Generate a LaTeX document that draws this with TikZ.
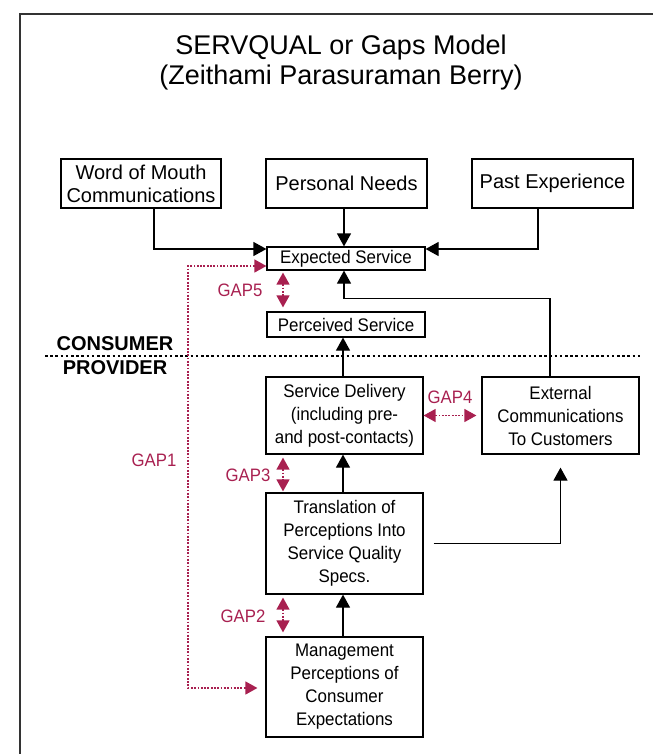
\documentclass[tikz,border=0pt]{standalone}
\usepackage{fontspec}
\setmainfont{Liberation Sans}
\newfontfamily\boxfont[FakeStretch=0.93]{Liberation Sans}
\usetikzlibrary{arrows.meta}
\definecolor{gapred}{RGB}{168,32,80}
\begin{document}
\begin{tikzpicture}[x=1pt,y=-1pt,
  box/.style={draw, line width=1.2pt, align=center, inner sep=0pt,
    font=\boxfont\fontsize{18.2}{23}\selectfont},
  bigbox/.style={box, font=\fontsize{20}{23}\selectfont},
  flow/.style={line width=1.2pt, -{Triangle[length=13pt,width=14pt]}},
  gapline/.style={gapred, line width=1.3pt, dash pattern=on 1.8pt off 1.5pt,
    {Triangle[length=12pt,width=13pt]}-{Triangle[length=12pt,width=13pt]}},
  gaplabel/.style={text=gapred, inner sep=0pt, font=\boxfont\fontsize{18}{20}\selectfont},
  side/.style={inner sep=0pt, font=\bfseries\fontsize{20}{22}\selectfont},
]
\useasboundingbox (0,0) rectangle (653,754);

% frame
\draw[line width=1.4pt, black!80] (20,754) -- (20,14) -- (653,14);

% title
\node[align=center, font=\fontsize{27}{30}\selectfont] (title) at (341,63)
  {SERVQUAL or Gaps Model\\(Zeithami Parasuraman Berry)};

% consumer side
\node[bigbox, minimum width=160pt, minimum height=49pt] (wom) at (141,183.5)
  {Word of Mouth\\Communications};
\node[bigbox, minimum width=161pt, minimum height=49pt] (needs) at (346.5,183.5)
  {Personal Needs};
\node[bigbox, minimum width=161pt, minimum height=49pt] (past) at (552.5,183.5)
  {Past Experience};
\node[box, minimum width=158pt, minimum height=23pt] (exp) at (346,258.5)
  {Expected Service};
\node[box, minimum width=158pt, minimum height=25pt] (perc) at (346,324.5)
  {Perceived Service};

% consumer / provider divider
\draw[line width=2.6pt, dash pattern=on 2.6pt off 2.6pt] (45,356) -- (643,356);
\node[side] (consumer) at (115,344) {CONSUMER};
\node[side] (provider) at (115,368) {PROVIDER};

% provider side
\node[box, minimum width=157pt, minimum height=77pt] (deliv) at (344.5,415.5)
  {Service Delivery\\(including pre-\\and post-contacts)};
\node[box, minimum width=157pt, minimum height=77pt] (ext) at (560.5,415.5)
  {External\\Communications\\To Customers};
\node[box, minimum width=157pt, minimum height=101pt] (trans) at (344.5,543.5)
  {Translation of\\Perceptions Into\\Service Quality\\Specs.};
\node[box, minimum width=157pt, minimum height=100pt] (mgmt) at (344.5,687)
  {Management\\Perceptions of\\Consumer\\Expectations};

% flows
\draw[flow] ([xshift=13pt]wom.south) |- ([yshift=9.5pt]exp.west);
\draw[flow] ([xshift=-14.5pt]past.south) |- ([yshift=9.5pt]exp.east);
\draw[flow] ([xshift=-2pt]exp.north |- needs.south) -- ([xshift=-2pt]exp.north);
\draw[flow] ([xshift=-10.5pt]ext.north) -- ++(0,-78) -| ([xshift=-2pt]exp.south);
\draw[flow] ([xshift=-1.5pt]deliv.north) -- ([xshift=-1.5pt]deliv.north |- perc.south);
\draw[flow] ([xshift=-1.5pt]trans.north) -- ([xshift=-1.5pt]deliv.south);
\draw[flow] ([xshift=-1.5pt]mgmt.north) -- ([xshift=-1.5pt]trans.south);
\draw[flow, shorten <=10pt, shorten >=13pt] (trans.east) -| (ext.south);

% gaps
\coordinate (gx) at (283,0);
\draw[gapline, shorten <=2pt, shorten >=4pt] (gx |- exp.south) -- (gx |- perc.north);
\draw[gapline, shorten <=3pt, shorten >=1pt] (gx |- deliv.south) -- (gx |- trans.north);
\draw[gapline, shorten <=3pt, shorten >=4pt] (gx |- trans.south) -- (gx |- mgmt.north);
\draw[gapline, shorten >=5pt] (deliv.east) -- (ext.west);
\draw[gapline, shorten >=8pt] ([yshift=-7.5pt]exp.west) -| (188,477) |- ([yshift=-1pt]mgmt.west);

\node[gaplabel] (gap5) at (240,290) {GAP5};
\node[gaplabel] (gap4) at (450,397) {GAP4};
\node[gaplabel] (gap3) at (248,475) {GAP3};
\node[gaplabel] (gap2) at (243,616) {GAP2};
\node[gaplabel] (gap1) at (154,460) {GAP1};
\end{tikzpicture}
\end{document}
